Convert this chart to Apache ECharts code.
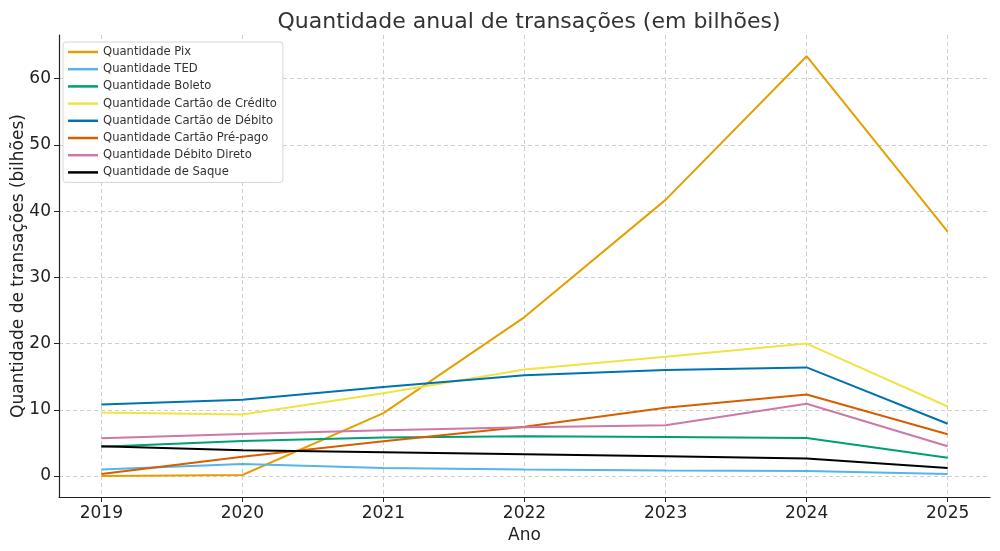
<!DOCTYPE html>
<html>
<head>
<meta charset="utf-8">
<script src="https://cdn.jsdelivr.net/npm/echarts@6/dist/echarts.min.js"></script>
<style>html,body{margin:0;padding:0;background:#fff}#c{width:1000px;height:551px}</style>
</head>
<body>
<div id="c"></div>
<script>
const years = [2019, 2020, 2021, 2022, 2023, 2024, 2025];
const yTicks = [0, 10, 20, 30, 40, 50, 60];
const pix = [0.0, 0.15, 9.5, 24.0, 41.7, 63.4, 36.9];
const ted = [1.0, 1.8, 1.2, 1.0, 0.85, 0.75, 0.3];
const boleto = [4.4, 5.3, 5.8, 6.0, 5.9, 5.75, 2.75];
const credito = [9.6, 9.3, 12.5, 16.1, 18.0, 20.0, 10.5];
const debito = [10.8, 11.5, 13.45, 15.2, 16.0, 16.4, 7.9];
const prepago = [0.3, 2.9, 5.25, 7.45, 10.3, 12.3, 6.3];
const debitoDireto = [5.7, 6.35, 6.9, 7.35, 7.65, 10.9, 4.5];
const saque = [4.5, 3.9, 3.6, 3.3, 3.0, 2.65, 1.2];

const seriesDefs = [
  ['Quantidade Pix', pix, '#E69F00'],
  ['Quantidade TED', ted, '#56B4E9'],
  ['Quantidade Boleto', boleto, '#009E73'],
  ['Quantidade Cartão de Crédito', credito, '#F0E442'],
  ['Quantidade Cartão de Débito', debito, '#0072B2'],
  ['Quantidade Cartão Pré-pago', prepago, '#D55E00'],
  ['Quantidade Débito Direto', debitoDireto, '#CC79A7'],
  ['Quantidade de Saque', saque, '#000000']
];

const font = 'DejaVu Sans';
const chart = echarts.init(document.getElementById('c'), null, {renderer: 'canvas'});
chart.setOption({
  animation: false,
  textStyle: {fontFamily: font},
  title: {
    text: 'Quantidade anual de transações (em bilhões)',
    left: 524, top: 6, textAlign: 'center',
    textStyle: {fontFamily: font, fontSize: 22, fontWeight: 'normal', color: '#333'}
  },
  grid: {left: 59, right: 10, top: 35, bottom: 54, containLabel: false, outerBoundsMode: 'none'},
  legend: {
    orient: 'vertical', left: 63, top: 42,
    padding: [3, 6, 3, 5],
    backgroundColor: '#fff', borderColor: '#d6d6d6', borderWidth: 1, borderRadius: 3,
    icon: 'rect', itemWidth: 30, itemHeight: 2.5, itemGap: 3.2,
    textStyle: {fontFamily: font, fontSize: 11.6, lineHeight: 14, color: '#333'},
    data: seriesDefs.map(s => s[0])
  },
  xAxis: {
    type: 'value', min: 2018.7, max: 2025.3,
    name: 'Ano', nameLocation: 'middle', nameGap: 29,
    nameTextStyle: {fontFamily: font, fontSize: 17, color: '#222'},
    axisLine: {show: true, onZero: false, lineStyle: {color: '#222', width: 1.2}},
    axisTick: {show: true, inside: false, length: 5, customValues: years, lineStyle: {color: '#222'}},
    axisLabel: {customValues: years, fontFamily: font, fontSize: 17, color: '#222', margin: 8, formatter: v => String(Math.round(v))},
    splitLine: {show: true, lineStyle: {color: '#cfcfcf', type: [4, 3], width: 1}}
  },
  yAxis: {
    type: 'value', min: -3.17, max: 66.6,
    name: 'Quantidade de transações (bilhões)', nameLocation: 'middle', nameGap: 32, nameRotate: 90,
    nameMoveOverlap: false,
    nameTextStyle: {fontFamily: font, fontSize: 17, color: '#222'},
    axisLine: {show: true, onZero: false, lineStyle: {color: '#222', width: 1.2}},
    axisTick: {show: true, inside: false, length: 5, customValues: yTicks, lineStyle: {color: '#222'}},
    axisLabel: {customValues: yTicks, fontFamily: font, fontSize: 17, color: '#222', margin: 8, formatter: v => String(Math.round(v))},
    splitLine: {show: true, lineStyle: {color: '#cfcfcf', type: [4, 3], width: 1}}
  },
  series: seriesDefs.map(([name, vals, color]) => ({
    name, type: 'line', showSymbol: false, symbol: 'none',
    data: years.map((y, i) => [y, vals[i]]),
    lineStyle: {color, width: 2},
    itemStyle: {color},
    z: 3
  }))
});
</script>
</body>
</html>
